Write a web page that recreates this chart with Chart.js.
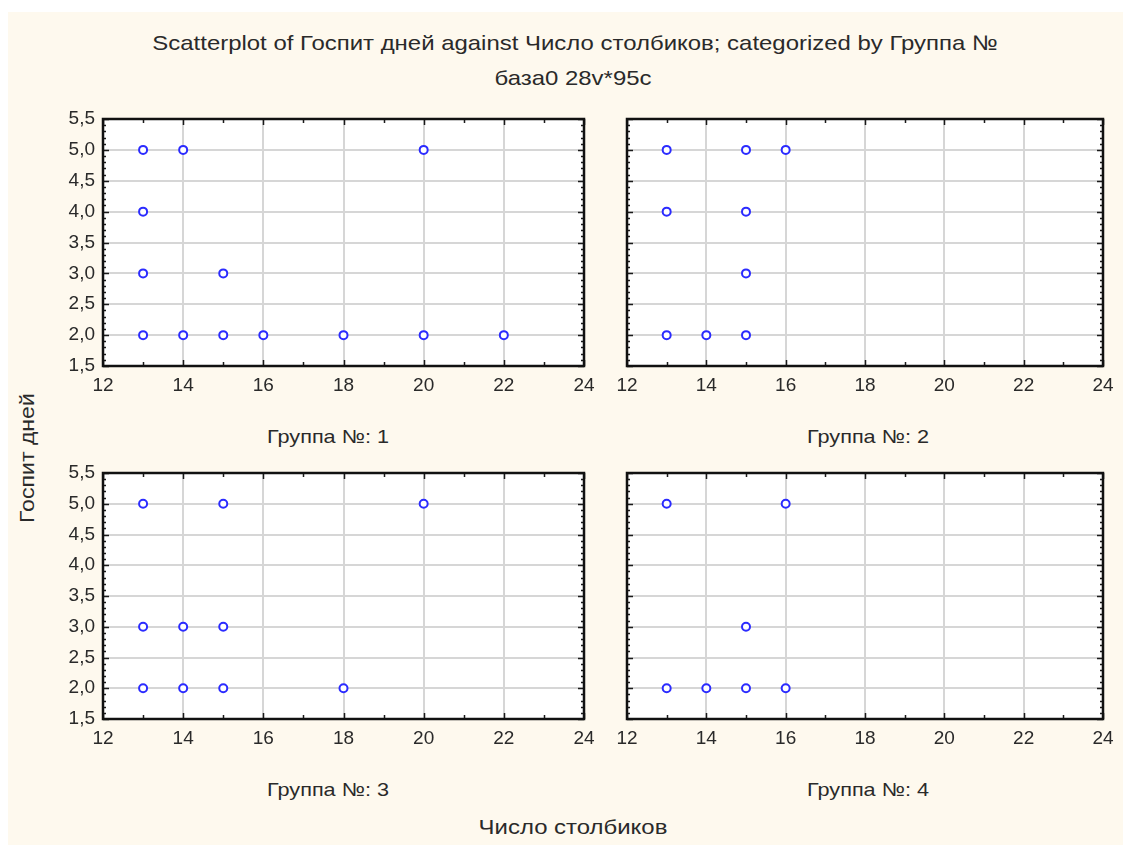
<!DOCTYPE html>
<html>
<head>
<meta charset="utf-8">
<script src="https://cdn.jsdelivr.net/npm/chart.js@4.4.1/dist/chart.umd.min.js"></script>
<style>
  html, body { margin: 0; padding: 0; }
  body {
    width: 1123px; height: 845px; overflow: hidden; position: relative;
    background: #ffffff;
    font-family: "Liberation Sans", Arial, sans-serif;
  }
  #sheet {
    position: absolute; left: 8px; top: 12px; width: 1115px; height: 833px;
    background: #fef9ee;
  }
  .lbl {
    position: absolute; color: #2a2a2a; white-space: nowrap;
    transform: translate(-50%, -50%) scaleX(1.14);
  }
  .panel { position: absolute; }
</style>
</head>
<body>
<div id="sheet"></div>

<div class="lbl" style="left:575px; top:43px; font-size:21px;">Scatterplot of Госпит дней against Число столбиков; categorized by Группа №</div>
<div class="lbl" style="left:573px; top:78px; font-size:21px;">база0 28v*95c</div>

<div class="lbl" style="left:328px; top:437px; font-size:19px;">Группа №: 1</div>
<div class="lbl" style="left:868px; top:437px; font-size:19px;">Группа №: 2</div>
<div class="lbl" style="left:328px; top:790px; font-size:19px;">Группа №: 3</div>
<div class="lbl" style="left:868px; top:790px; font-size:19px;">Группа №: 4</div>

<div class="lbl" style="left:573px; top:827px; font-size:21px;">Число столбиков</div>
<div class="lbl" style="left:27px; top:458px; font-size:21px; transform:translate(-50%,-50%) rotate(-90deg) scaleX(1.1);">Госпит дней</div>

<div class="panel" id="p1"><canvas id="c1"></canvas></div>
<div class="panel" id="p2"><canvas id="c2"></canvas></div>
<div class="panel" id="p3"><canvas id="c3"></canvas></div>
<div class="panel" id="p4"><canvas id="c4"></canvas></div>

<script>
// Число столбиков (x) and Госпит дней (y) for each Группа №
const group1X = [13, 14, 20, 13, 13, 15, 13, 14, 15, 16, 18, 20, 22];
const group1Y = [5, 5, 5, 4, 3, 3, 2, 2, 2, 2, 2, 2, 2];

const group2X = [13, 15, 16, 13, 15, 15, 13, 14, 15];
const group2Y = [5, 5, 5, 4, 4, 3, 2, 2, 2];

const group3X = [13, 15, 20, 13, 14, 15, 13, 14, 15, 18];
const group3Y = [5, 5, 5, 3, 3, 3, 2, 2, 2, 2];

const group4X = [13, 16, 15, 13, 14, 15, 16];
const group4Y = [5, 5, 3, 2, 2, 2, 2];

// Axis ticks shared by all four panels
const xTickValues = [12, 14, 16, 18, 20, 22, 24];
const yTickValues = [1.5, 2.0, 2.5, 3.0, 3.5, 4.0, 4.5, 5.0, 5.5];

// Panel placement: plot-area rectangle of each panel in page pixels;
// only the left-hand column carries y tick labels
const panelRects = [
  { el: 'p1', canvas: 'c1', left: 103, top: 119, width: 481, height: 247, yLabels: true },
  { el: 'p2', canvas: 'c2', left: 627, top: 119, width: 476, height: 247, yLabels: false },
  { el: 'p3', canvas: 'c3', left: 103, top: 473, width: 481, height: 246, yLabels: true },
  { el: 'p4', canvas: 'c4', left: 627, top: 473, width: 476, height: 246, yLabels: false }
];
const groupsX = [group1X, group2X, group3X, group4X];
const groupsY = [group1Y, group2Y, group3Y, group4Y];

const Y_AXIS_W = 56, X_AXIS_H = 36, PAD_TOP = 22, PAD_RIGHT = 20;

// White plot area, inward minor ticks and a dark frame round each panel
const framePlugin = {
  id: 'panelFrame',
  beforeDraw(chart) {
    const { ctx, chartArea: a } = chart;
    ctx.save();
    ctx.fillStyle = '#ffffff';
    ctx.fillRect(a.left, a.top, a.right - a.left, a.bottom - a.top);
    ctx.restore();
  },
  afterDraw(chart) {
    const { ctx, chartArea: a } = chart;
    const xs = chart.scales.x, ys = chart.scales.y;
    ctx.save();
    ctx.strokeStyle = '#1a1a1a';
    ctx.lineWidth = 1.5;
    ctx.beginPath();
    for (let v = xs.min; v <= xs.max + 1e-9; v += 1) {
      const px = Math.round(xs.getPixelForValue(v)) + 0.5;
      const len = (v % 2 === 0) ? 6 : 4;
      ctx.moveTo(px, a.top); ctx.lineTo(px, a.top + len);
      ctx.moveTo(px, a.bottom); ctx.lineTo(px, a.bottom - len);
    }
    for (let i = 0; ys.min + i * 0.1 <= ys.max + 1e-9; i++) {
      const v = ys.min + i * 0.1;
      const py = Math.round(ys.getPixelForValue(v)) + 0.5;
      const len = (i % 5 === 0) ? 6 : 3;
      ctx.moveTo(a.left, py); ctx.lineTo(a.left + len, py);
      ctx.moveTo(a.right, py); ctx.lineTo(a.right - len, py);
    }
    ctx.stroke();
    ctx.lineWidth = 2.5;
    ctx.strokeStyle = '#111111';
    ctx.strokeRect(a.left, a.top, a.right - a.left, a.bottom - a.top);
    ctx.restore();
  }
};

function buildPanel(rect, xs, ys) {
  const wrap = document.getElementById(rect.el);
  const cw = rect.width + Y_AXIS_W + PAD_RIGHT;
  const ch = rect.height + PAD_TOP + X_AXIS_H;
  wrap.style.left = (rect.left - Y_AXIS_W) + 'px';
  wrap.style.top = (rect.top - PAD_TOP) + 'px';
  wrap.style.width = cw + 'px';
  wrap.style.height = ch + 'px';
  const cv = document.getElementById(rect.canvas);
  cv.width = cw; cv.height = ch;
  cv.style.width = cw + 'px'; cv.style.height = ch + 'px';

  const points = xs.map((x, i) => ({ x: x, y: ys[i] }));
  const tickFont = { family: '"Liberation Sans", Arial, sans-serif', size: 19 };

  return new Chart(cv.getContext('2d'), {
    type: 'scatter',
    data: {
      datasets: [{
        data: points,
        pointStyle: 'circle',
        pointRadius: 4,
        pointBorderWidth: 2,
        pointBorderColor: '#2b2bff',
        pointBackgroundColor: '#ffffff',
        showLine: false
      }]
    },
    options: {
      responsive: false,
      animation: false,
      devicePixelRatio: 1,
      layout: { padding: { top: PAD_TOP, right: PAD_RIGHT, left: 0, bottom: 0 } },
      plugins: { legend: { display: false }, tooltip: { enabled: false }, title: { display: false } },
      scales: {
        x: {
          type: 'linear', min: 12, max: 24,
          afterBuildTicks: s => { s.ticks = xTickValues.map(v => ({ value: v })); },
          afterFit: s => { s.height = X_AXIS_H; },
          ticks: { font: tickFont, color: '#2a2a2a', padding: 8, maxRotation: 0, autoSkip: false,
                   callback: v => String(v) },
          grid: { color: '#d6d6d6', lineWidth: 2, drawTicks: false },
          border: { display: false }
        },
        y: {
          type: 'linear', min: 1.5, max: 5.5,
          afterBuildTicks: s => { s.ticks = yTickValues.map(v => ({ value: v })); },
          afterFit: s => { s.width = Y_AXIS_W; },
          ticks: { display: rect.yLabels, font: tickFont, color: '#2a2a2a', padding: 8, autoSkip: false,
                   callback: v => Number(v).toFixed(1).replace('.', ',') },
          grid: { color: '#d6d6d6', lineWidth: 2, drawTicks: false },
          border: { display: false }
        }
      }
    },
    plugins: [framePlugin]
  });
}

panelRects.forEach((r, i) => buildPanel(r, groupsX[i], groupsY[i]));
</script>
</body>
</html>
